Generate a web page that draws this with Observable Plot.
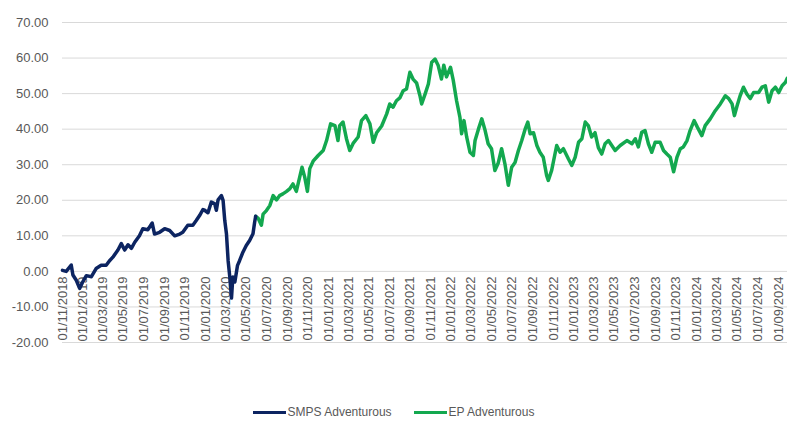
<!DOCTYPE html>
<html><head><meta charset="utf-8">
<script src="https://cdn.jsdelivr.net/npm/d3@7"></script>
<script src="https://cdn.jsdelivr.net/npm/@observablehq/plot@0.6"></script>
<style>
body{margin:0;background:#fff;font-family:"Liberation Sans",Arial,sans-serif;}
#legend{display:flex;justify-content:center;gap:22px;margin-top:25px;font-size:12px;color:#595959;line-height:14px;}
.item{display:flex;align-items:center;}
.sw{width:33px;height:3px;margin-right:2px;}
</style></head><body>
<div id="chart"></div>
<div id="legend"></div>
<script>
const seriesNames = ["SMPS Adventurous", "EP Adventurous"];
const seriesColors = ["#0c2461", "#13a84f"];

const smpsDates = ["2018-11-01","2018-11-12","2018-11-27","2018-12-02","2018-12-12","2018-12-22","2018-12-31","2019-01-11","2019-01-26","2019-02-09","2019-02-24","2019-03-11","2019-03-21","2019-03-31","2019-04-15","2019-04-25","2019-05-05","2019-05-15","2019-05-25","2019-06-04","2019-06-18","2019-06-28","2019-07-13","2019-07-26","2019-08-02","2019-08-17","2019-09-01","2019-09-16","2019-10-01","2019-10-16","2019-10-25","2019-11-09","2019-11-24","2019-12-04","2019-12-14","2019-12-24","2019-12-29","2020-01-08","2020-01-18","2020-01-28","2020-02-02","2020-02-07","2020-02-17","2020-02-22","2020-02-27","2020-03-03","2020-03-08","2020-03-13","2020-03-18","2020-03-22","2020-03-28","2020-04-05","2020-04-11","2020-04-21","2020-05-01","2020-05-11","2020-05-21","2020-05-26","2020-05-29"];
const smpsValues = [0.3,0,1.8,-1,-2.5,-4.8,-3,-1.2,-1.5,0.8,1.7,1.7,3,4,6,7.8,6,7.5,6.5,8.2,10,12,11.7,13.6,10.5,11,12,11.5,10,10.5,11,13,13,14.3,15.7,17.4,17.2,16.5,19.5,19,17.2,20.1,21.3,20,14.3,10.6,3,-1.6,-7.5,-1.6,-3,1.7,3,5.4,7.3,8.7,10.6,13.9,15.5];

const epDates = ["2020-05-29","2020-06-05","2020-06-15","2020-06-20","2020-06-30","2020-07-10","2020-07-20","2020-07-30","2020-08-08","2020-08-18","2020-08-29","2020-09-07","2020-09-17","2020-09-27","2020-10-07","2020-10-14","2020-10-22","2020-10-30","2020-11-06","2020-11-16","2020-12-01","2020-12-16","2020-12-26","2021-01-07","2021-01-20","2021-01-29","2021-02-03","2021-02-13","2021-02-23","2021-03-05","2021-03-15","2021-03-30","2021-04-09","2021-04-22","2021-05-04","2021-05-14","2021-05-24","2021-06-08","2021-06-23","2021-07-02","2021-07-12","2021-07-22","2021-08-01","2021-08-11","2021-08-21","2021-08-31","2021-09-10","2021-09-20","2021-09-30","2021-10-05","2021-10-15","2021-10-25","2021-11-04","2021-11-14","2021-11-23","2021-12-03","2021-12-10","2021-12-18","2021-12-30","2022-01-07","2022-01-17","2022-01-27","2022-02-01","2022-02-08","2022-02-16","2022-02-26","2022-03-08","2022-03-13","2022-03-23","2022-04-02","2022-04-12","2022-04-21","2022-05-01","2022-05-11","2022-05-21","2022-05-31","2022-06-10","2022-06-20","2022-06-30","2022-07-10","2022-07-20","2022-07-30","2022-08-09","2022-08-17","2022-08-24","2022-09-03","2022-09-13","2022-09-22","2022-10-02","2022-10-12","2022-10-17","2022-10-27","2022-11-11","2022-11-21","2022-12-01","2022-12-16","2022-12-26","2023-01-05","2023-01-15","2023-01-25","2023-02-04","2023-02-13","2023-02-23","2023-03-05","2023-03-15","2023-03-25","2023-04-04","2023-04-14","2023-04-24","2023-05-04","2023-05-19","2023-06-08","2023-06-23","2023-07-03","2023-07-12","2023-07-22","2023-08-01","2023-08-11","2023-08-21","2023-08-31","2023-09-15","2023-09-25","2023-10-05","2023-10-15","2023-10-25","2023-11-04","2023-11-14","2023-11-23","2023-12-04","2023-12-13","2023-12-25","2024-01-04","2024-01-17","2024-01-27","2024-02-11","2024-02-26","2024-03-12","2024-03-27","2024-04-06","2024-04-16","2024-04-23","2024-05-01","2024-05-10","2024-05-20","2024-05-30","2024-06-09","2024-06-19","2024-07-04","2024-07-14","2024-07-24","2024-08-03","2024-08-13","2024-08-23","2024-09-02","2024-09-12","2024-09-22","2024-09-27"];
const epValues = [15.5,15,13,16.1,17.1,18.5,21.3,20.1,21.3,21.8,22.5,23.2,24.6,22.5,26.5,29.3,26.5,22.5,28.9,31,32.6,34,36.8,41.5,41,36.8,41,42,37.4,34,36,37.8,42.4,43.8,41.5,36.3,39,40.9,44.3,47.1,46.2,48,48.8,50.8,51.3,56,54,53,49.4,47.1,49.8,52.7,58.8,59.7,58,54.1,58,54.7,57.4,53.8,48,43.3,38.7,42.4,37.8,33.5,32.6,36.8,40,42.9,39.6,35.9,34.5,28.4,30.5,34.5,30.2,24.2,29.3,30.6,34,36.8,40,42,38.7,39,35.4,33.5,32.1,27,25.6,28.4,35.4,33.5,34.5,31.6,29.8,32.1,36.3,37.3,42,41,37.8,39,34.8,33,35.9,36.8,35.4,34,35.4,36.8,35.9,37.3,35,39.1,39.6,35.9,33.5,36.3,36.3,34,33,32.1,28,32.1,34.5,35,36.8,39.6,42.4,40.5,38.2,41,42.9,45.2,47.1,49.4,48.6,47.1,43.8,46.6,49.4,51.8,49.9,48.6,50.3,50.3,51.8,52.2,47.6,50.8,51.8,50.3,52.2,53.2,54.3];

const xTickLabels = ["01/11/2018","01/01/2019","01/03/2019","01/05/2019","01/07/2019","01/09/2019","01/11/2019","01/01/2020","01/03/2020","01/05/2020","01/07/2020","01/09/2020","01/11/2020","01/01/2021","01/03/2021","01/05/2021","01/07/2021","01/09/2021","01/11/2021","01/01/2022","01/03/2022","01/05/2022","01/07/2022","01/09/2022","01/11/2022","01/01/2023","01/03/2023","01/05/2023","01/07/2023","01/09/2023","01/11/2023","01/01/2024","01/03/2024","01/05/2024","01/07/2024","01/09/2024"];
const yTicks = [-20,-10,0,10,20,30,40,50,60,70];
const xDomain = ["2018-11-01","2024-09-28"];

const parseDMY = s => { const [d,m,y] = s.split("/").map(Number); return new Date(Date.UTC(y, m-1, d)); };
const parseISO = s => new Date(s + "T00:00:00Z");
const smps = smpsDates.map((d,i) => ({date: parseISO(d), value: smpsValues[i]}));
const ep = epDates.map((d,i) => ({date: parseISO(d), value: epValues[i]}));
const xTicks = xTickLabels.map(s => ({date: parseDMY(s), label: s}));

const chart = Plot.plot({
  width: 787, height: 380,
  marginLeft: 62, marginRight: 0, marginTop: 22, marginBottom: 38,
  style: {fontFamily: "'Liberation Sans', Arial, sans-serif", fontSize: "13px", color: "#595959", background: "#fff", overflow: "visible"},
  x: {type: "utc", domain: xDomain.map(parseISO), axis: null},
  y: {domain: [-20, 70], axis: null},
  marks: [
    Plot.gridY(yTicks, {stroke: "#d9d9d9", strokeOpacity: 1, strokeWidth: 1}),
    Plot.axisY(yTicks, {tickSize: 0, tickPadding: 14, tickFormat: d => d.toFixed(2), fill: "#595959", fontSize: 13, label: null}),
    Plot.text(xTicks, {x: "date", y: () => 0, text: "label", rotate: -90, textAnchor: "end", dy: 5, fill: "#595959", fontSize: 13}),
    Plot.line(ep, {x: "date", y: "value", stroke: seriesColors[1], strokeWidth: 3.5}),
    Plot.line(smps, {x: "date", y: "value", stroke: seriesColors[0], strokeWidth: 3.5})
  ]
});
document.getElementById("chart").appendChild(chart);

const legend = document.getElementById("legend");
seriesNames.forEach((n, i) => {
  const it = document.createElement("div"); it.className = "item";
  const sw = document.createElement("span"); sw.className = "sw"; sw.style.background = seriesColors[i];
  const t = document.createElement("span"); t.textContent = n;
  it.appendChild(sw); it.appendChild(t); legend.appendChild(it);
});
</script>
</body></html>
